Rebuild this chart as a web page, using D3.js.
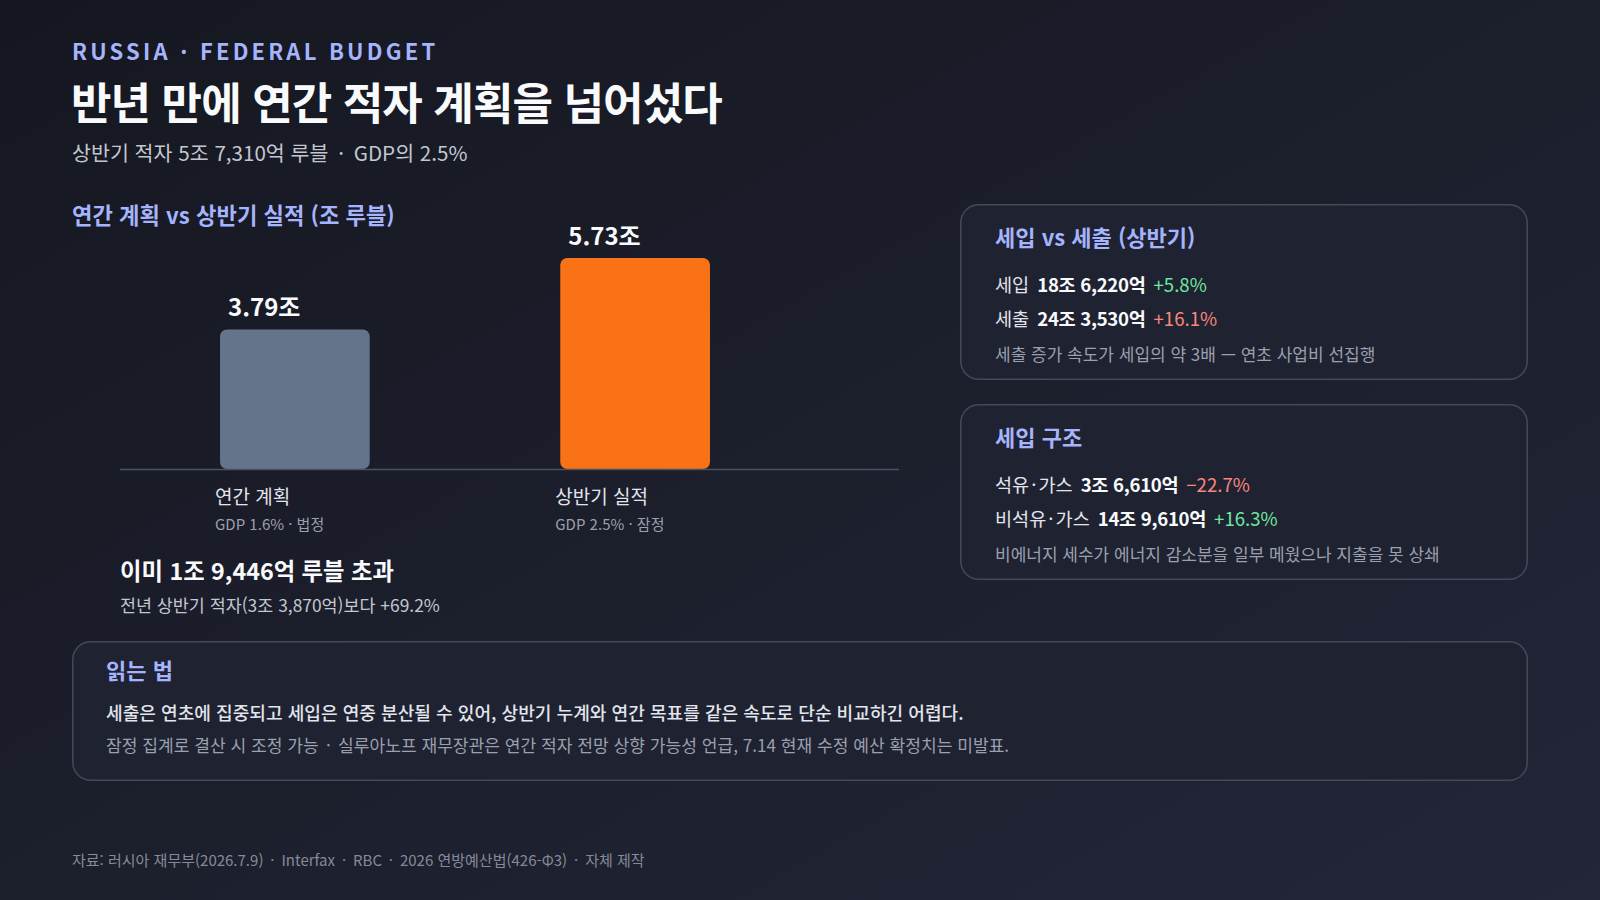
<!DOCTYPE html>
<html lang="ko">
<head>
<meta charset="utf-8">
<script src="https://cdn.jsdelivr.net/npm/d3@7/dist/d3.min.js"></script>
<style>
  html, body { margin: 0; padding: 0; background: #161821; }
  svg { display: block; font-family: "Noto Sans CJK KR", "Noto Sans", sans-serif; }
</style>
</head>
<body>
<svg id="chart" width="1600" height="900"></svg>
<script>
// ---- data ----
const categories = ["연간 계획", "상반기 실적"];
const values = [3.79, 5.73];
const valueLabels = ["3.79조", "5.73조"];
const subLabels = ["GDP 1.6% · 법정", "GDP 2.5% · 잠정"];

const flowLabels = ["세입", "세출"];
const flowAmounts = ["18조 6,220억", "24조 3,530억"];
const flowChanges = ["+5.8%", "+16.1%"];
const flowTones = ["up", "bad"];
const flowNote = "세출 증가 속도가 세입의 약 3배 — 연초 사업비 선집행";

const revLabels = ["석유·가스", "비석유·가스"];
const revAmounts = ["3조 6,610억", "14조 9,610억"];
const revChanges = ["−22.7%", "+16.3%"];
const revTones = ["bad", "up"];
const revNote = "비에너지 세수가 에너지 감소분을 일부 메웠으나 지출을 못 상쇄";

// ---- styles ----
const C = {
  accent: "#a5b4fc",
  white: "#f8fafc",
  text: "#e2e5ec",
  sub: "#c3c7d1",
  muted: "#9aa0ae",
  dim: "#858b9a",
  green: "#6ee7a0",
  red: "#f8877c",
  boxFill: "#1f2231",
  boxStroke: "#43485d",
  axis: "#4b5065"
};

const svg = d3.select("#chart");
const defs = svg.append("defs");
const grad = defs.append("linearGradient").attr("id", "bg")
  .attr("x1", "0%").attr("y1", "0%").attr("x2", "100%").attr("y2", "100%");
grad.append("stop").attr("offset", "0%").attr("stop-color", "#151720");
grad.append("stop").attr("offset", "100%").attr("stop-color", "#232638");
svg.append("rect").attr("width", 1600).attr("height", 900).attr("fill", "url(#bg)");

// text with padded " · " separators
function sepText(sel, str, pad) {
  const parts = str.split(" · ");
  parts.forEach((p, i) => {
    if (i > 0) {
      sel.append("tspan").attr("dx", pad).text(" ·");
      sel.append("tspan").attr("dx", pad).text(" " + p);
    } else {
      sel.append("tspan").text(p);
    }
  });
  return sel;
}

// ---- header ----
svg.append("text").attr("x", 72).attr("y", 60)
  .attr("fill", C.accent).attr("font-size", 22).attr("font-weight", 700)
  .attr("letter-spacing", "3.2px")
  .text("RUSSIA · FEDERAL BUDGET");
svg.append("text").attr("x", 71).attr("y", 120)
  .attr("fill", C.white).attr("font-size", 44).attr("font-weight", 700)
  .attr("letter-spacing", "-0.9px")
  .text("반년 만에 연간 적자 계획을 넘어섰다");
sepText(svg.append("text").attr("x", 72).attr("y", 161)
  .attr("fill", C.sub).attr("font-size", 20.6), "상반기 적자 5조 7,310억 루블 · GDP의 2.5%", 4);

svg.append("text").attr("x", 72).attr("y", 224)
  .attr("fill", C.accent).attr("font-size", 22.2).attr("font-weight", 700)
  .text("연간 계획 vs 상반기 실적 (조 루블)");

// ---- bar chart ----
const x = d3.scaleBand().domain(categories).range([120, 810])
  .paddingInner(0.56).paddingOuter(0.294);
const y = d3.scaleLinear().domain([0, d3.max(values)]).range([469, 258]);
const color = d3.scaleOrdinal().domain(categories).range(["#64748b", "#f97316"]);

const barData = categories.map((c, i) => ({ c, v: values[i], lab: valueLabels[i], sub: subLabels[i] }));

const g = svg.append("g");
g.selectAll("rect.bar").data(barData).join("rect")
  .attr("class", "bar")
  .attr("x", d => x(d.c))
  .attr("width", x.bandwidth())
  .attr("y", d => y(d.v))
  .attr("height", d => y(0) - y(d.v))
  .attr("rx", 7)
  .attr("fill", d => color(d.c));

g.append("line").attr("x1", 120).attr("x2", 899)
  .attr("y1", y(0) + 0.5).attr("y2", y(0) + 0.5)
  .attr("stroke", C.axis).attr("stroke-width", 1.6);

g.selectAll("text.val").data(barData).join("text")
  .attr("class", "val")
  .attr("x", d => x(d.c) + 8)
  .attr("y", d => y(d.v) - 13)
  .attr("fill", C.white).attr("font-size", 24).attr("font-weight", 700)
  .text(d => d.lab);

g.selectAll("text.cat").data(barData).join("text")
  .attr("class", "cat")
  .attr("x", d => x(d.c) - 5)
  .attr("y", y(0) + 35)
  .attr("fill", C.text).attr("font-size", 19)
  .text(d => d.c);

g.selectAll("text.subcat").data(barData).join("text")
  .attr("class", "subcat")
  .attr("x", d => x(d.c) - 5)
  .attr("y", y(0) + 61)
  .attr("fill", C.muted).attr("font-size", 15)
  .text(d => d.sub);

svg.append("text").attr("x", 120).attr("y", 580)
  .attr("fill", C.white).attr("font-size", 23.3).attr("font-weight", 700)
  .text("이미 1조 9,446억 루블 초과");
svg.append("text").attr("x", 120).attr("y", 612)
  .attr("fill", C.sub).attr("font-size", 17.4)
  .text("전년 상반기 적자(3조 3,870억)보다 +69.2%");

// ---- side boxes ----
function box(x0, y0, w, h) {
  svg.append("rect").attr("x", x0 + 0.75).attr("y", y0 + 0.75)
    .attr("width", w - 1.5).attr("height", h - 1.5).attr("rx", 18)
    .attr("fill", C.boxFill).attr("stroke", C.boxStroke).attr("stroke-width", 1.5);
}

function statBox(y0, title, labels, amounts, changes, tones, note) {
  box(960, y0, 568, 176);
  svg.append("text").attr("x", 995).attr("y", y0 + 42)
    .attr("fill", C.accent).attr("font-size", 22).attr("font-weight", 700)
    .text(title);
  labels.forEach((lab, i) => {
    const t = svg.append("text").attr("x", 995).attr("y", y0 + 88 + i * 34)
      .attr("font-size", 18.6);
    const lp = lab.split("·");
    lp.forEach((p, j) => {
      if (j > 0) {
        t.append("tspan").attr("dx", 2).attr("fill", C.text).text("·");
        t.append("tspan").attr("dx", 2).attr("fill", C.text).text(p);
      } else {
        t.append("tspan").attr("fill", C.text).text(p);
      }
    });
    t.append("tspan").attr("dx", 8).attr("fill", C.white).attr("font-weight", 700)
      .attr("letter-spacing", "-0.3px").text(amounts[i]);
    t.append("tspan").attr("dx", 8)
      .attr("fill", tones[i] === "up" ? C.green : C.red)
      .text(changes[i]);
  });
  svg.append("text").attr("x", 995).attr("y", y0 + 157)
    .attr("fill", C.muted).attr("font-size", 17)
    .text(note);
}

statBox(204, "세입 vs 세출 (상반기)", flowLabels, flowAmounts, flowChanges, flowTones, flowNote);
statBox(404, "세입 구조", revLabels, revAmounts, revChanges, revTones, revNote);

// ---- reading box ----
box(72, 641, 1456, 140);
svg.append("text").attr("x", 106).attr("y", 679)
  .attr("fill", C.accent).attr("font-size", 22).attr("font-weight", 700)
  .text("읽는 법");
svg.append("text").attr("x", 106).attr("y", 720)
  .attr("fill", C.text).attr("font-size", 18.1).attr("font-weight", 500)
  .text("세출은 연초에 집중되고 세입은 연중 분산될 수 있어, 상반기 누계와 연간 목표를 같은 속도로 단순 비교하긴 어렵다.");
sepText(svg.append("text").attr("x", 106).attr("y", 752)
  .attr("fill", C.muted).attr("font-size", 17.1),
  "잠정 집계로 결산 시 조정 가능 · 실루아노프 재무장관은 연간 적자 전망 상향 가능성 언급, 7.14 현재 수정 예산 확정치는 미발표.", 2.5);

// ---- footer ----
sepText(svg.append("text").attr("x", 72).attr("y", 866)
  .attr("fill", C.dim).attr("font-size", 15),
  "자료: 러시아 재무부(2026.7.9) · Interfax · RBC · 2026 연방예산법(426-Φ3) · 자체 제작", 2.7);
</script>
</body>
</html>
